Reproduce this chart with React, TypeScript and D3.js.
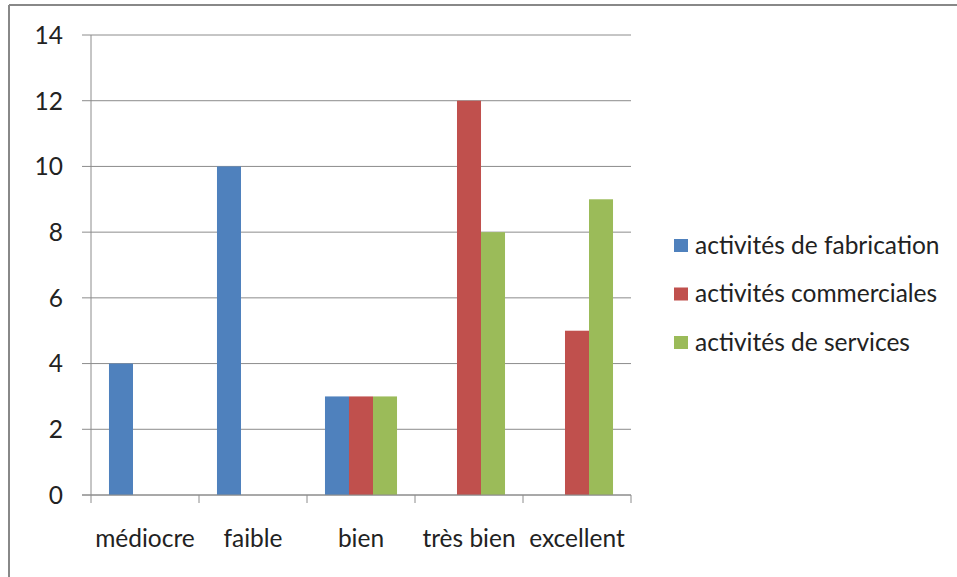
import React from "react";
import * as d3 from "d3";

const categories = ["médiocre", "faible", "bien", "très bien", "excellent"];
const seriesNames = ["activités de fabrication", "activités commerciales", "activités de services"];
const fabrication = [4, 10, 3, 0, 0];
const commerciales = [0, 0, 3, 12, 5];
const services = [0, 0, 3, 8, 9];
const seriesColors = ["#4F81BD", "#C0504D", "#9BBB59"];
const yTicks = [0, 2, 4, 6, 8, 10, 12, 14];

const W = 957;
const H = 577;
const FONT = "Lato, 'Noto Sans', sans-serif";
const FS = 24.5;

export default function App() {
  const series = [fabrication, commerciales, services];
  const x = d3.scaleBand<string>().domain(categories).range([91, 631]).paddingInner(0).paddingOuter(0);
  const y = d3.scaleLinear().domain([0, 14]).range([495, 35]);
  const groupW = x.bandwidth() * 0.667;
  const inner = d3
    .scaleBand<number>()
    .domain(d3.range(series.length))
    .range([0, groupW]);

  return (
    <svg
      width={W}
      height={H}
      style={{ position: "fixed", left: 0, top: 0, background: "#fff" }}
      fontFamily={FONT}
    >
      <rect x={0} y={0} width={W} height={H} fill="#fff" />
      {/* outer border */}
      <line x1={9} y1={5} x2={W} y2={5} stroke="#888" strokeWidth={2} />
      <line x1={9} y1={5} x2={9} y2={H} stroke="#888" strokeWidth={2} />

      {/* gridlines and y ticks */}
      {yTicks.map((t) => (
        <g key={t}>
          <line x1={82} x2={631} y1={y(t)} y2={y(t)} stroke="#8c8c8c" strokeWidth={1} />
          <text x={63} y={y(t)} dy="0.36em" textAnchor="end" fontSize={FS} fill="#222">
            {t}
          </text>
        </g>
      ))}

      {/* bars */}
      {categories.map((c, i) => {
        const x0 = (x(c) as number) + (x.bandwidth() - groupW) / 2;
        return series.map((s, j) =>
          s[i] > 0 ? (
            <rect
              key={`${i}-${j}`}
              x={x0 + (inner(j) as number)}
              y={y(s[i])}
              width={inner.bandwidth()}
              height={y(0) - y(s[i])}
              fill={seriesColors[j]}
            />
          ) : null
        );
      })}

      {/* axes */}
      <line x1={91} x2={91} y1={35} y2={495} stroke="#8c8c8c" strokeWidth={1} />
      <line x1={82} x2={631} y1={495} y2={495} stroke="#8c8c8c" strokeWidth={1} />
      {categories.map((c, i) => (
        <line
          key={`tk${i}`}
          x1={x(c) as number}
          x2={x(c) as number}
          y1={495}
          y2={503}
          stroke="#8c8c8c"
        />
      ))}
      <line x1={631} x2={631} y1={495} y2={503} stroke="#8c8c8c" />
      {categories.map((c) => (
        <text
          key={c}
          x={(x(c) as number) + x.bandwidth() / 2}
          y={547}
          textAnchor="middle"
          fontSize={FS}
          fill="#222"
        >
          {c}
        </text>
      ))}

      {/* legend */}
      {seriesNames.map((n, j) => (
        <g key={n} transform={`translate(674, ${245 + j * 48.5})`}>
          <rect x={0} y={-6} width={14} height={13} fill={seriesColors[j]} />
          <text x={21} y={0} dy="0.36em" fontSize={FS} fill="#222">
            {n}
          </text>
        </g>
      ))}
    </svg>
  );
}
